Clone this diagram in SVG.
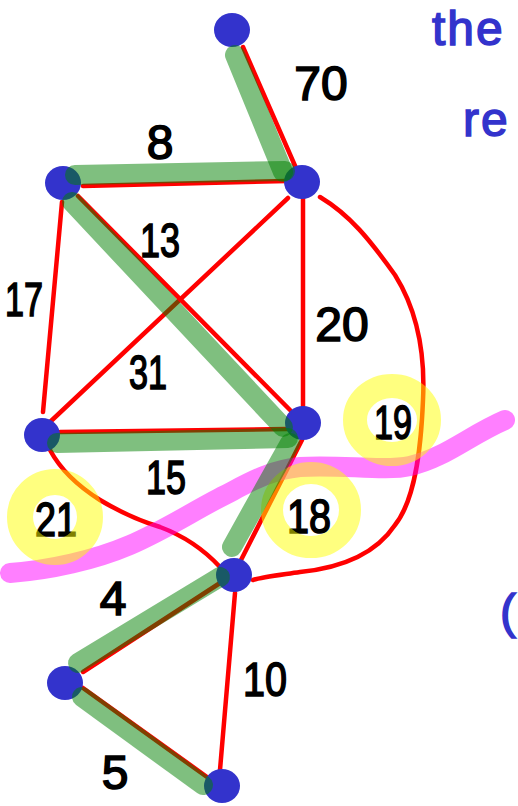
<svg xmlns="http://www.w3.org/2000/svg" width="518" height="806" viewBox="0 0 518 806">
<style>
.red{stroke:#ff0000;stroke-width:4.5;fill:none;stroke-linecap:round}
.grn{stroke:#008000;stroke-opacity:0.5;stroke-width:20;fill:none;stroke-linecap:round}
.node{fill:#3333cc}
.lbl{font-family:"Liberation Sans",Arial,sans-serif;font-size:48px;fill:#000;stroke:#000;stroke-width:1.6;text-anchor:middle}
.hand{font-family:"Liberation Sans",Arial,sans-serif;font-size:48px;fill:#3333cc;stroke:#3333cc;stroke-width:1.5}
.pink{stroke:#ff00ff;stroke-opacity:0.5;stroke-width:20;fill:none;stroke-linecap:round}
.yel{stroke:#ffff00;stroke-opacity:0.5;fill:none}
</style>
<rect width="518" height="806" fill="#ffffff"/>
<g id="connectors">
<line class="red" x1="243" y1="47" x2="296" y2="168"/>
<line class="red" x1="83" y1="186" x2="287" y2="181"/>
<line class="red" x1="78" y1="196" x2="290" y2="410"/>
<line class="red" x1="62" y1="202" x2="43" y2="412"/>
<line class="red" x1="288" y1="198" x2="50" y2="422"/>
<line class="red" x1="303" y1="198" x2="303" y2="407"/>
<line class="red" x1="60" y1="432" x2="287" y2="429"/>
<line class="red" x1="302" y1="440" x2="240" y2="562"/>
<line class="red" x1="220" y1="583" x2="83" y2="672"/>
<line class="red" x1="83" y1="688" x2="207" y2="777"/>
<line class="red" x1="235" y1="593" x2="220" y2="770"/>
<path class="red" d="M50,450 Q65,478 100,500 Q130,518 160,527 Q195,540 220,567"/>
<path class="red" d="M320,197 C350,215 370,240 395,275 C420,315 425,360 423,400 C421,450 415,500 395,525 C375,555 340,568 300,572 C280,575 262,577 253,580"/>
</g>
<g id="nodes">
<g id="nA"><ellipse class="node" cx="232" cy="30" rx="18" ry="17"/></g>
<g id="nB"><ellipse class="node" cx="302" cy="182" rx="18" ry="17"/></g>
<g id="nC"><ellipse class="node" cx="63" cy="183" rx="18" ry="17"/></g>
<g id="nD"><ellipse class="node" cx="42" cy="435" rx="18" ry="17"/></g>
<g id="nE"><ellipse class="node" cx="303" cy="423" rx="18" ry="17"/></g>
<g id="nF"><ellipse class="node" cx="234" cy="575" rx="18" ry="17"/></g>
<g id="nG"><ellipse class="node" cx="65" cy="683" rx="18" ry="17"/></g>
<g id="nH"><ellipse class="node" cx="222" cy="786" rx="18" ry="17"/></g>
</g>
<g id="labels">
<text class="lbl" x="321" y="100">70</text>
<text class="lbl" x="160" y="159">8</text>
<text class="lbl" x="160" y="257" textLength="40" lengthAdjust="spacingAndGlyphs">13</text>
<text class="lbl" x="24" y="316" textLength="38" lengthAdjust="spacingAndGlyphs">17</text>
<text class="lbl" x="342" y="341">20</text>
<text class="lbl" x="148" y="389" textLength="38" lengthAdjust="spacingAndGlyphs">31</text>
<text class="lbl" x="393" y="439" textLength="38" lengthAdjust="spacingAndGlyphs">19</text>
<text class="lbl" x="166" y="494" textLength="40" lengthAdjust="spacingAndGlyphs">15</text>
<text class="lbl" x="56" y="536" textLength="42" lengthAdjust="spacingAndGlyphs">21</text>
<text class="lbl" x="309" y="533" textLength="44" lengthAdjust="spacingAndGlyphs">18</text>
<text class="lbl" x="113" y="615">4</text>
<text class="lbl" x="265" y="696" textLength="44" lengthAdjust="spacingAndGlyphs">10</text>
<text class="lbl" x="115" y="789">5</text>
<text class="hand" x="432" y="45" letter-spacing="2">the</text>
<text class="hand" x="463" y="136" letter-spacing="2">re</text>
<text class="hand" x="500" y="628">(</text>
</g>
<g id="cut">
<path class="pink" d="M10,573 C50,570 95,560 130,545 C165,530 195,510 225,495 C250,482 270,470 300,467 C340,464 385,472 410,466 C445,458 470,435 505,420"/>
</g>
<g id="highlights">
<ellipse class="yel" cx="55" cy="517" rx="35" ry="35" stroke-width="26"/>
<ellipse class="yel" cx="392" cy="420" rx="37" ry="34" stroke-width="24"/>
<ellipse class="yel" cx="311" cy="510" rx="39" ry="37" stroke-width="22"/>
</g>
<g id="mst">
<line class="grn" x1="235" y1="55" x2="283" y2="172"/>
<line class="grn" x1="75" y1="175" x2="285" y2="171"/>
<line class="grn" x1="72" y1="202" x2="283" y2="427"/>
<line class="grn" x1="57" y1="443" x2="288" y2="438"/>
<line class="grn" x1="290" y1="443" x2="232" y2="547"/>
<line class="grn" x1="220" y1="577" x2="78" y2="663"/>
<line class="grn" x1="82" y1="697" x2="203" y2="785"/>
</g>
</svg>
